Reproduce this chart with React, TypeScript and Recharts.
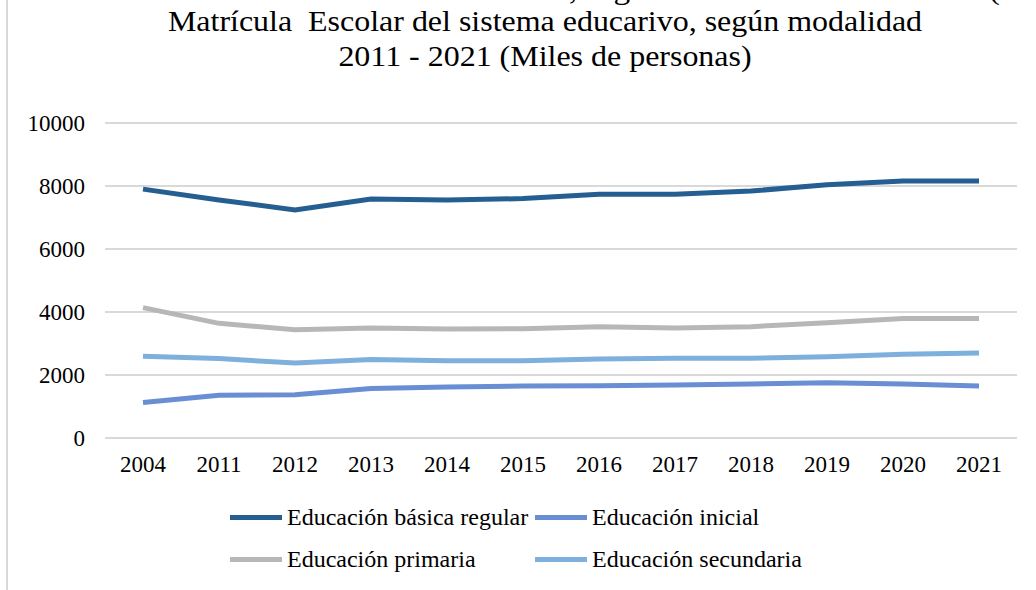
import { LineChart, Line, XAxis, YAxis, CartesianGrid } from "recharts"

const years = ["2004", "2011", "2012", "2013", "2014", "2015", "2016", "2017", "2018", "2019", "2020", "2021"]

const basicaRegular = [7900, 7555, 7240, 7590, 7555, 7600, 7735, 7735, 7840, 8040, 8160, 8160]
const inicial = [1130, 1355, 1375, 1575, 1620, 1650, 1660, 1685, 1715, 1755, 1715, 1650]
const primaria = [4140, 3640, 3440, 3490, 3460, 3470, 3535, 3495, 3535, 3660, 3790, 3790]
const secundaria = [2595, 2520, 2380, 2490, 2455, 2455, 2510, 2530, 2530, 2580, 2655, 2700]

const yTicks = [0, 2000, 4000, 6000, 8000, 10000]

const series = [
  { key: "basica", name: "Educación básica regular", color: "#255e91", values: basicaRegular },
  { key: "inicial", name: "Educación inicial", color: "#6a8ed3", values: inicial },
  { key: "primaria", name: "Educación primaria", color: "#b7b7b7", values: primaria },
  { key: "secundaria", name: "Educación secundaria", color: "#7eb0de", values: secundaria },
]

const data = years.map((y, i) => {
  const row: Record<string, string | number> = { year: y }
  series.forEach((s) => {
    row[s.key] = s.values[i]
  })
  return row
})

const font = '"Liberation Serif", "Times New Roman", Times, serif'

export default function App() {
  return (
    <div
      style={{
        position: "absolute",
        left: 0,
        top: 0,
        width: 1036,
        height: 590,
        overflow: "hidden",
        background: "#fff",
        fontFamily: font,
        color: "#000",
      }}
    >
      {/* left page border */}
      <div style={{ position: "absolute", left: 6, top: 0, width: 2, height: 590, background: "#d9d9d9" }} />

      {/* previous caption, cut off at the top */}
      <div
        style={{
          position: "absolute",
          left: 42,
          top: -29,
          fontSize: 30,
          lineHeight: "35px",
          whiteSpace: "pre",
          transform: "scaleX(1.11)",
          transformOrigin: "left top",
        }}
      >
        Matrícula escolar del sistema educativo, según modalidad 2011 - 2021 (
      </div>

      {/* title */}
      <div
        style={{
          position: "absolute",
          left: 0,
          width: 1090,
          top: 3,
          textAlign: "center",
          fontSize: 30,
          lineHeight: "35px",
          whiteSpace: "pre",
          transform: "scaleX(1.065)",
          transformOrigin: "545px 0",
        }}
      >
        {"Matrícula  Escolar del sistema educarivo, según modalidad\n2011 - 2021 (Miles de personas)"}
      </div>

      <div style={{ position: "absolute", left: 0, top: 0 }}>
        <LineChart
          width={1036}
          height={590}
          data={data}
          margin={{ top: 123, right: 19, bottom: 0, left: 0 }}
        >
          <CartesianGrid vertical={false} stroke="#d9d9d9" strokeWidth={2} />
          <XAxis
            dataKey="year"
            axisLine={false}
            tickLine={false}
            tickSize={0}
            tickMargin={18}
            height={152}
            padding={{ left: 38, right: 38 }}
            interval={0}
            tick={{ fontSize: 23, fill: "#000", fontFamily: font }}
          />
          <YAxis
            domain={[0, 10000]}
            ticks={yTicks}
            axisLine={false}
            tickLine={false}
            tickSize={0}
            tickMargin={20}
            width={105}
            interval={0}
            tick={{ fontSize: 23, fill: "#000", fontFamily: font }}
          />
          {series.map((s) => (
            <Line
              key={s.key}
              type="linear"
              dataKey={s.key}
              name={s.name}
              stroke={s.color}
              strokeWidth={5}
              dot={false}
              activeDot={false}
              isAnimationActive={false}
            />
          ))}
        </LineChart>
      </div>

      {/* legend, two rows */}
      {series.map((s, i) => {
        const col = i % 2
        const row = Math.floor(i / 2)
        return (
          <div
            key={s.key}
            style={{
              position: "absolute",
              left: col === 0 ? 230 : 535,
              top: 503 + row * 42,
              height: 28,
              display: "flex",
              alignItems: "center",
              fontSize: 24,
              whiteSpace: "nowrap",
            }}
          >
            <span style={{ display: "inline-block", width: 52, height: 5, background: s.color, marginRight: 5 }} />
            <span>{s.name}</span>
          </div>
        )
      })}
    </div>
  )
}
